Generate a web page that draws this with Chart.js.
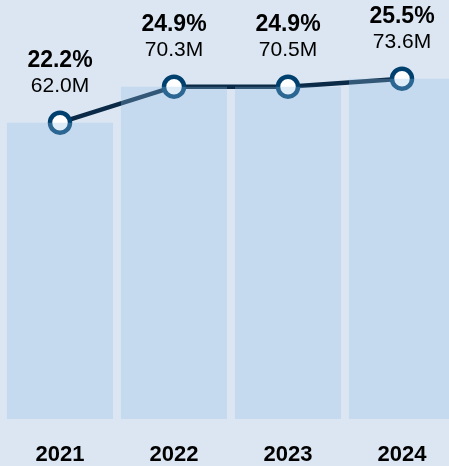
<!DOCTYPE html>
<html>
<head>
<meta charset="utf-8">
<script src="https://cdn.jsdelivr.net/npm/chart.js@4.4.1/dist/chart.umd.min.js"></script>
<style>
  html, body { margin: 0; padding: 0; background: #dbe6f2; overflow: hidden; }
  canvas { display: block; }
</style>
</head>
<body>
<canvas id="myChart" width="462" height="466"></canvas>
<script>
const years = ['2021', '2022', '2023', '2024'];
const sharePct = [22.2, 24.9, 24.9, 25.5];
const peopleM = [62.0, 70.3, 70.5, 73.6];

// labels above each point: share in bold, count below it
const pointLabels = {
    id: 'pointLabels',
    afterDatasetsDraw(chart) {
        const ctx = chart.ctx;
        const meta = chart.getDatasetMeta(1);
        ctx.save();
        ctx.textAlign = 'center';
        ctx.textBaseline = 'alphabetic';
        ctx.fillStyle = '#000';
        meta.data.forEach(function (pt, i) {
            const p = pt.getProps(['x', 'y'], true);
            ctx.font = 'bold 23px "Liberation Sans", Arial, sans-serif';
            ctx.fillText(sharePct[i].toFixed(1) + '%', p.x, p.y - 56);
            ctx.font = '21px "Liberation Sans", Arial, sans-serif';
            ctx.fillText(peopleM[i].toFixed(1) + 'M', p.x, p.y - 31);
        });
        ctx.restore();
    }
};

const ctx = document.getElementById('myChart');
const myChart = new Chart(ctx, {
    data: {
        labels: years,
        datasets: [
            {
                type: 'bar',
                data: sharePct,
                backgroundColor: 'rgba(146,193,232,0.3)',
                borderWidth: 0,
                categoryPercentage: 1,
                barPercentage: 0.93,
                order: 1
            },
            {
                type: 'line',
                data: sharePct,
                borderColor: '#0a2a47',
                borderWidth: 4.5,
                tension: 0,
                pointRadius: 10,
                pointHoverRadius: 10,
                pointBorderWidth: 4.5,
                pointBorderColor: '#00406f',
                pointBackgroundColor: '#ffffff',
                order: 2
            }
        ]
    },
    options: {
        responsive: false,
        animation: false,
        layout: {
            autoPadding: false,
            padding: { top: 18.6, left: 3, right: 3, bottom: 0 }
        },
        plugins: {
            legend: { display: false },
            tooltip: { enabled: false }
        },
        scales: {
            y: {
                display: false,
                min: 0,
                max: 30
            },
            x: {
                grid: { display: false, drawTicks: false },
                border: { display: false },
                afterFit: function (scale) {
                    scale.paddingLeft = 0;
                    scale.paddingRight = 0;
                    scale.height = 47;
                },
                ticks: {
                    color: '#000',
                    padding: 25,
                    font: { family: '"Liberation Sans", Arial, sans-serif', size: 22, weight: 'bold', lineHeight: 1 }
                }
            }
        }
    },
    plugins: [pointLabels]
});
</script>
</body>
</html>
